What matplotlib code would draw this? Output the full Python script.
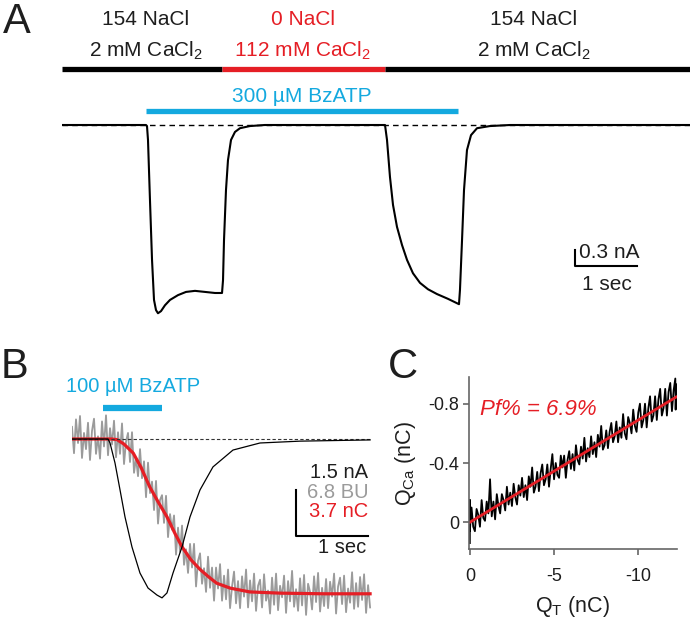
import matplotlib
matplotlib.use("Agg")
import numpy as np
import matplotlib.pyplot as plt

plt.rcParams['font.family'] = ['Liberation Sans', 'DejaVu Sans']
plt.rcParams['mathtext.fontset'] = 'custom'
plt.rcParams['mathtext.rm'] = 'Liberation Sans'
plt.rcParams['mathtext.it'] = 'Liberation Sans:italic'
plt.rcParams['axes.unicode_minus'] = False

RED = '#e51e25'
BLUE = '#14a9df'
GRAY = '#9b9b9b'
INK = '#1e1e1e'

# ---- panel A data (time in s, current in nA) ----
sol_edges = [0, 2.58, 5.21, 10.13]
sol_names = [("154 NaCl", "2 mM CaCl$_2$"), ("0 NaCl", "112 mM CaCl$_2$"), ("154 NaCl", "2 mM CaCl$_2$")]
bz_a = [1.35, 6.39]
a_t = [0, 1.355, 1.371, 1.387, 1.419, 1.452, 1.484, 1.516, 1.548, 1.597,
       1.661, 1.742, 1.871, 2.0, 2.145, 2.306, 2.468, 2.581, 2.597, 2.613,
       2.645, 2.677, 2.726, 2.79, 2.871, 3.03, 3.27, 5.21, 5.242, 5.29,
       5.339, 5.403, 5.484, 5.565, 5.661, 5.774, 5.903, 6.048, 6.226, 6.403,
       6.419, 6.452, 6.484, 6.532, 6.597, 6.694, 6.9, 7.226, 10.13]
a_i = [0, 0, -0.02, -0.28, -1.41, -2.53, -3.28, -3.47, -3.53, -3.49,
       -3.38, -3.28, -3.19, -3.13, -3.11, -3.13, -3.15, -3.15, -2.91, -2.16,
       -1.22, -0.66, -0.28, -0.13, -0.06, -0.02, 0, 0, -0.28, -0.975,
       -1.5, -1.91, -2.25, -2.53, -2.78, -2.96, -3.08, -3.17, -3.26, -3.36,
       -3.09, -2.16, -1.22, -0.47, -0.19, -0.06, -0.02, 0, 0]

# ---- panel B data ----
bz_b = [0.43, 1.25]
b_t_i = [0, 0.5, 0.528, 0.597, 0.667, 0.736, 0.833, 0.944, 1.056, 1.181, 1.25,
         1.319, 1.403, 1.528, 1.639, 1.778, 1.958, 2.236, 2.611, 3.167, 4.14]
b_i = [0, 0, -0.13, -0.78, -1.66, -2.54, -3.52, -4.37, -4.86, -5.09, -5.18,
       -5.02, -4.37, -3.52, -2.54, -1.66, -0.91, -0.36, -0.13, -0.07, -0.03]
b_t_q = [0, 0.55, 0.625, 0.72, 0.85, 0.96, 1.08, 1.2, 1.32, 1.43,
         1.53, 1.65, 1.78, 1.9, 2.01, 2.2, 2.47, 2.9, 3.5, 4.14]
b_q = [0, 0, -0.05, -0.4, -1.13, -2.3, -3.86, -5.1, -6.27, -7.6,
       -8.69, -9.7, -10.5, -11.1, -11.6, -12.0, -12.3, -12.4, -12.45, -12.45]
b_bu = [1.8, -2.1, 2.9, -0.6, 3.4, -2.8, 0.9, -1.5, 2.4, -3.1, 1.2, 3.0, -2.2, 0.4, -2.9, 2.6, -1.1, 3.5, -2.4, 1.6, -0.8, 2.7,
        -2.7, 1.0, -2.2, 2.3, -3.7, -0.4, 0.9, -3.4, 1.0, -5.0, -2.8, -5.5, -1.5, -5.8, -3.3, -8.6, -3.5, -8.0, -6.3, -10.5,
        -6.2, -12.5, -9.0, -8.3, -12.4, -8.4, -14.5, -11.1, -13.4, -11.3, -17.1, -13.1, -16.7, -12.8, -18.6, -16.3, -19.8, -15.5,
        -19.0, -15.5, -21.8, -18.0, -16.9, -21.4, -19.1, -22.6, -17.4, -22.0, -19.0, -23.9, -19.0, -22.1, -18.5, -23.9, -20.2,
        -23.7, -19.3, -25.0, -21.8, -19.6, -24.3, -21.0, -25.0, -20.3, -23.3, -19.3, -24.9, -20.9, -24.0, -19.9, -25.4, -21.7,
        -20.8, -24.9,
        -20.0, -23.9, -22.4, -25.8, -20.5, -24.5, -19.9, -25.3, -21.7, -23.4, -20.2, -25.7, -21.0, -24.0, -19.5, -24.8, -22.2,
        -25.4, -20.6, -24.6, -20.1, -26.0, -21.4, -22.6, -25.2, -20.3, -24.1, -19.8, -25.5, -22.0, -24.7, -20.7, -25.0, -21.1,
        -23.3, -19.9, -25.8, -21.8, -20.5, -24.4, -20.2, -25.6, -22.1, -24.2, -19.7, -25.1, -21.3, -24.8, -20.4, -23.8, -20.0,
        -25.7, -21.6, -24.9]
b_t_bu = np.linspace(0, 4.14, len(b_bu))

# ---- panel C data (nC) ----
c_qt = [0, 0, 0, -0.1, -0.2, -0.3, -0.4, -0.5, -0.6, -0.7, -0.8, -0.9,
        -1.0, -1.1, -1.2, -1.3, -1.4, -1.5, -1.6, -1.7, -1.8, -1.9,
        -2.0, -2.1, -2.2, -2.3, -2.4, -2.5, -2.6, -2.7, -2.8, -2.9,
        -3.0, -3.1, -3.2, -3.3, -3.4, -3.5, -3.6, -3.7, -3.8, -3.9,
        -4.0, -4.1, -4.2, -4.3, -4.4, -4.5, -4.6, -4.7, -4.8, -4.9,
        -5.0, -5.1, -5.2, -5.3, -5.4, -5.5, -5.6, -5.7, -5.8, -5.9,
        -6.0, -6.1, -6.2, -6.3, -6.4, -6.5, -6.6, -6.7, -6.8, -6.9,
        -7.0, -7.1, -7.2, -7.3, -7.4, -7.5, -7.6, -7.7, -7.8, -7.9,
        -8.0, -8.1, -8.2, -8.3, -8.4, -8.5, -8.6, -8.7, -8.8, -8.9,
        -9.0, -9.1, -9.2, -9.3, -9.4, -9.5, -9.6, -9.7, -9.8, -9.9,
        -10.0, -10.1, -10.2, -10.3, -10.4, -10.5, -10.6, -10.7, -10.8, -10.9,
        -11.0, -11.1, -11.2, -11.3, -11.4, -11.5, -11.6, -11.7, -11.8, -11.9,
        -12.0, -12.1, -12.2, -12.22, -12.25]
c_qca = [0.14, -0.15, 0.06, -0.10, 0.03, 0.06, -0.09, -0.05, 0.03, -0.15, -0.03, -0.01,
         -0.14, -0.06, -0.29, -0.04, -0.14, -0.02, -0.19, -0.11, -0.06, -0.19,
         -0.15, -0.08, -0.24, -0.12, -0.20, -0.11, -0.26, -0.17, -0.12, -0.25,
         -0.18, -0.30, -0.17, -0.25, -0.15, -0.31, -0.24, -0.37, -0.20, -0.24,
         -0.34, -0.21, -0.33, -0.39, -0.25, -0.29, -0.39, -0.24, -0.36, -0.46,
         -0.29, -0.40, -0.32, -0.30, -0.45, -0.37, -0.45, -0.30, -0.42, -0.48,
         -0.36, -0.46, -0.35, -0.52, -0.42, -0.39, -0.51, -0.43, -0.57, -0.41,
         -0.50, -0.44, -0.58, -0.46, -0.54, -0.44, -0.59, -0.51, -0.65, -0.49,
         -0.52, -0.62, -0.50, -0.61, -0.67, -0.54, -0.58, -0.68, -0.54, -0.64,
         -0.57, -0.73, -0.60, -0.56, -0.71, -0.67, -0.60, -0.76, -0.65, -0.61,
         -0.74, -0.80, -0.64, -0.69, -0.80, -0.64, -0.77, -0.85, -0.68, -0.72,
         -0.85, -0.69, -0.83, -0.90, -0.72, -0.77, -0.90, -0.72, -0.88, -0.94,
         -0.75, -0.89, -0.97, -0.76, -0.93]
c_fit_qt = [0, -12.25]
c_fit_qca = [0, -0.845]

W, H = 693, 622
fig = plt.figure(figsize=(W / 100, H / 100), dpi=100)
fig.patch.set_facecolor('white')


def px_axes(x0, y0, x1, y1):
    return fig.add_axes([x0 / W, 1 - y1 / H, (x1 - x0) / W, (y1 - y0) / H])


def ftxt(x, y, s, **kw):
    kw.setdefault('ha', 'center')
    kw.setdefault('va', 'baseline')
    fig.text(x / W, 1 - y / H, s, **kw)


# ================= A =================
axA = px_axes(62, 0, 690, 330)
axA.axis('off')
a_px_per_s = 62.0
a_px_per_na = 53.33
axA.set_xlim(0, 628 / a_px_per_s)
axA.set_ylim(-205 / a_px_per_na, 125 / a_px_per_na)

y_sol = 56 / a_px_per_na
y_bz = 14 / a_px_per_na
for k in range(3):
    col = RED if k == 1 else 'black'
    axA.plot(sol_edges[k:k + 2], [y_sol, y_sol], color=col, lw=3.8, solid_capstyle='butt')
axA.plot(bz_a, [y_bz, y_bz], color=BLUE, lw=3.8, solid_capstyle='butt')
axA.plot([0, sol_edges[-1]], [0, 0], color='black', lw=1.0, dashes=(4, 3))
axA.plot(a_t, a_i, color='black', lw=1.5)

# scale bar 0.3 nA / 1 s
sb_t0, sb_i0 = 8.27, -2.64
axA.plot([sb_t0, sb_t0, sb_t0 + 1], [sb_i0 + 0.3, sb_i0, sb_i0], color='black', lw=1.5)

ftxt(3, 33, "A", fontsize=30, ha='left', color=INK)
name_x = [146, 303, 534]
for k, (l1, l2) in enumerate(sol_names):
    col = RED if k == 1 else INK
    ftxt(name_x[k], 25, l1, fontsize=15, color=col)
    ftxt(name_x[k], 57, l2, fontsize=15, color=col)
ftxt(302, 102, "300 µM BzATP", fontsize=15, color=BLUE)
ftxt(579, 258, "0.3 nA", fontsize=15, ha='left', color=INK)
ftxt(607, 290, "1 sec", fontsize=15, color=INK)

# ================= B =================
b_box = (72, 410, 372, 620)
b_px_per_s = 72.0
b_base_px = 439 - b_box[1]
b_h = b_box[3] - b_box[1]
sb_px = 46.0

axB_bu = px_axes(*b_box)
axB_q = px_axes(*b_box)
axB_i = px_axes(*b_box)
for ax, full in ((axB_i, 1.5), (axB_q, 3.7), (axB_bu, 6.8)):
    ax.axis('off')
    ax.patch.set_alpha(0)
    ax.set_xlim(0, (b_box[2] - b_box[0]) / b_px_per_s)
    ax.set_ylim(-(b_h - b_base_px) * full / sb_px, b_base_px * full / sb_px)

axB_bu.plot(b_t_bu, b_bu, color=GRAY, lw=1.3)
axB_q.plot(b_t_q, b_q, color=RED, lw=2.3)
axB_i.plot([0, 4.14], [0, 0], color='#333333', lw=0.8, dashes=(3, 2))
axB_i.plot(b_t_i, b_i, color='black', lw=0.9)
axB_i.plot(bz_b, [1.0, 1.0], color=BLUE, lw=4.5, solid_capstyle='butt', clip_on=False)

sbb_t0, sbb_i0 = 3.11, -3.16
axB_i.plot([sbb_t0, sbb_t0, sbb_t0 + 1], [sbb_i0 + 1.5, sbb_i0, sbb_i0], color='black', lw=1.5)

ftxt(1, 378, "B", fontsize=30, ha='left', color=INK)
ftxt(133, 392, "100 µM BzATP", fontsize=14.5, color=BLUE)
ftxt(368, 478, "1.5 nA", fontsize=14.5, ha='right', color=INK)
ftxt(368, 498, "6.8 BU", fontsize=14.5, ha='right', color=GRAY)
ftxt(368, 517, "3.7 nC", fontsize=14.5, ha='right', color=RED)
ftxt(366, 553, "1 sec", fontsize=14.5, ha='right', color=INK)

# ================= C =================
axC = px_axes(469, 377, 677, 549)
axC.plot(c_qt, c_qca, color='black', lw=1.3)
axC.plot(c_fit_qt, c_fit_qca, color=RED, lw=2.0)
axC.set_xlim(0.05, -12.3)
axC.set_ylim(0.18, -0.98)
axC.set_xticks([0, -5, -10])
axC.set_xticklabels(['0', '-5', '-10'])
axC.set_yticks([0, -0.4, -0.8])
axC.set_yticklabels(['0', '-0.4', '-0.8'])
for s in ('top', 'right'):
    axC.spines[s].set_visible(False)
for s in ('left', 'bottom'):
    axC.spines[s].set_color('#666666')
    axC.spines[s].set_linewidth(1.2)
axC.tick_params(direction='out', length=4, width=1.2, color='#666666',
                labelcolor=INK, labelsize=13)
axC.tick_params(axis='x', pad=10)
axC.tick_params(axis='y', pad=3)
axC.set_xlabel('Q$_\\mathregular{T}$ (nC)', fontsize=15.5, color=INK)
axC.set_ylabel('Q$_\\mathregular{Ca}$ (nC)', fontsize=15.5, color=INK)
axC.xaxis.set_label_coords(0.5, -0.26)
axC.yaxis.set_label_coords(-0.245, 0.5)

ftxt(388, 378, "C", fontsize=30, ha='left', color=INK)
ftxt(480, 415, "Pf% = 6.9%", fontsize=16, color=RED, ha='left', fontstyle='italic')

fig.savefig("out.png", dpi=100)
